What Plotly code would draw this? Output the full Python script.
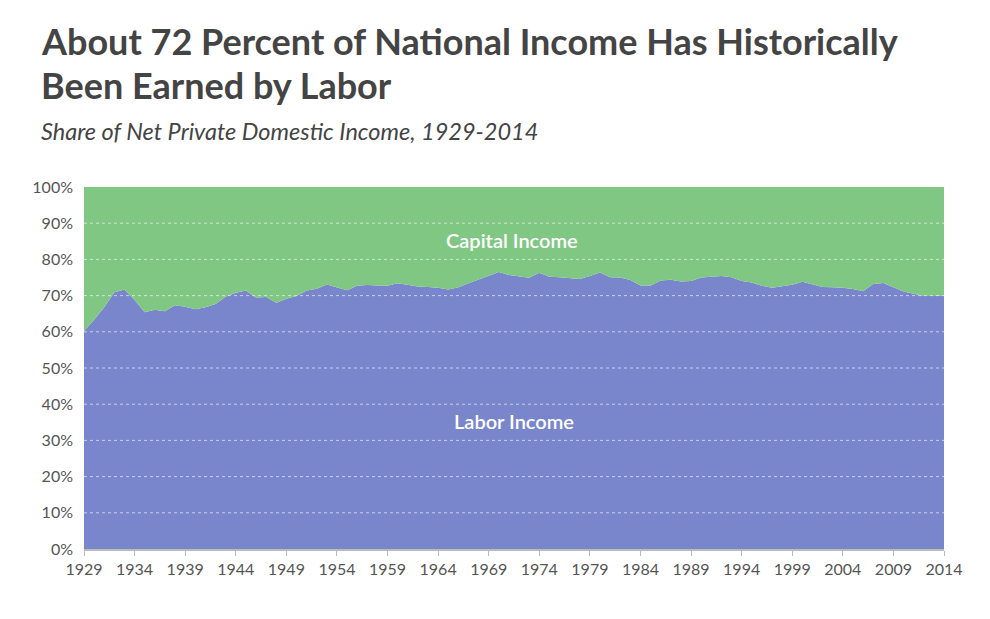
import plotly.graph_objects as go

years = list(range(1929, 2015))
labor_share = [
    60.2, 63.3, 66.8, 70.9, 71.7, 68.8, 65.4, 66.1, 65.7, 67.3,  # 1929-1938
    66.9, 66.2, 66.8, 67.7, 69.7, 70.8, 71.4, 69.5, 69.6, 68.0,  # 1939-1948
    69.1, 69.9, 71.4, 71.9, 73.1, 72.2, 71.5, 72.7, 72.9, 72.8,  # 1949-1958
    72.7, 73.4, 72.9, 72.5, 72.4, 72.2, 71.7, 72.3, 73.4, 74.4,  # 1959-1968
    75.5, 76.5, 75.7, 75.2, 74.9, 76.3, 75.2, 75.1, 74.9, 74.6,  # 1969-1978
    75.4, 76.4, 75.1, 75.0, 74.3, 72.8, 72.8, 74.2, 74.4, 73.9,  # 1979-1988
    74.0, 75.0, 75.2, 75.4, 75.1, 74.0, 73.6, 72.7, 72.2, 72.7,  # 1989-1998
    73.0, 73.8, 73.0, 72.4, 72.3, 72.2, 71.8, 71.2, 73.2, 73.5,  # 1999-2008
    72.3, 71.1, 70.5, 69.9, 69.9, 70.1,                          # 2009-2014
]
capital_share = [round(100 - v, 1) for v in labor_share]

x_ticks = list(range(1929, 2015, 5))
y_ticks = list(range(0, 101, 10))
y_tick_labels = [f"{v}%" for v in y_ticks]

title_lines = ["About 72 Percent of National Income Has Historically", "Been Earned by Labor"]
subtitle = "Share of Net Private Domestic Income, 1929-2014"

LABOR_COLOR = "#7986CB"
CAPITAL_COLOR = "#81C784"
FONT = "Lato"

fig = go.Figure()
fig.add_trace(go.Scatter(
    x=years, y=labor_share, name="Labor Income", stackgroup="one",
    mode="lines", line=dict(width=0, color=LABOR_COLOR), fillcolor=LABOR_COLOR,
))
fig.add_trace(go.Scatter(
    x=years, y=capital_share, name="Capital Income", stackgroup="one",
    mode="lines", line=dict(width=0, color=CAPITAL_COLOR), fillcolor=CAPITAL_COLOR,
))

# dashed gridlines drawn above the filled areas
for v in y_ticks[1:-1]:
    fig.add_shape(type="line", xref="paper", yref="y", x0=0, x1=1, y0=v, y1=v,
                  line=dict(color="rgba(255,255,255,0.6)", width=1, dash="3px,3px"),
                  layer="above")

fig.add_annotation(x=1971.3, y=85.4, text="Capital Income", showarrow=False,
                   font=dict(family=FONT, size=20, color="white", weight=600))
fig.add_annotation(x=1971.5, y=35.4, text="Labor Income", showarrow=False,
                   font=dict(family=FONT, size=20, color="white", weight=600))

# the page body adds an 8px offset; target pixel positions are screen positions
OFF = 8
W, H = 974, 603
L, R, T, B = 84 - OFF, 974 - (944 - OFF), 187 - OFF, 603 - (549 - OFF)
pw, ph = W - L - R, H - T - B

def px(xpix):
    return (xpix - OFF - L) / pw

def py(ypix):
    return (H - B - (ypix - OFF)) / ph

fig.add_annotation(xref="paper", yref="paper", x=px(39), y=py(41), xanchor="left", yanchor="middle",
                   text=title_lines[0], showarrow=False,
                   font=dict(family=FONT, size=36, color="#444444", weight=700))
fig.add_annotation(xref="paper", yref="paper", x=px(39), y=py(85), xanchor="left", yanchor="middle",
                   text=title_lines[1], showarrow=False,
                   font=dict(family=FONT, size=36, color="#444444", weight=700))
fig.add_annotation(xref="paper", yref="paper", x=px(39), y=py(131), xanchor="left", yanchor="middle",
                   text=subtitle, showarrow=False,
                   font=dict(family=FONT, size=23.5, color="#444444", style="italic"))

fig.update_layout(
    width=W, height=H,
    margin=dict(l=L, r=R, t=T, b=B),
    paper_bgcolor="white", plot_bgcolor="white",
    showlegend=False,
    font=dict(family=FONT, size=16, color="#555555"),
    hovermode=False,
)
fig.update_xaxes(
    range=[1929, 2014], tickvals=x_ticks, ticktext=[str(t) for t in x_ticks],
    showgrid=False, zeroline=False, showline=True, linecolor="#BBBBBB", linewidth=2,
    ticks="outside", ticklen=5, tickcolor="#BBBBBB", tickwidth=1,
    tickfont=dict(family=FONT, size=16, color="#555555"),
)
fig.update_yaxes(
    range=[0, 100], tickvals=y_ticks, ticktext=y_tick_labels,
    showgrid=False, zeroline=False, showline=False, ticks="",
    ticklabelstandoff=10,
    tickfont=dict(family=FONT, size=16, color="#555555"),
)

fig.write_html("out.html")
